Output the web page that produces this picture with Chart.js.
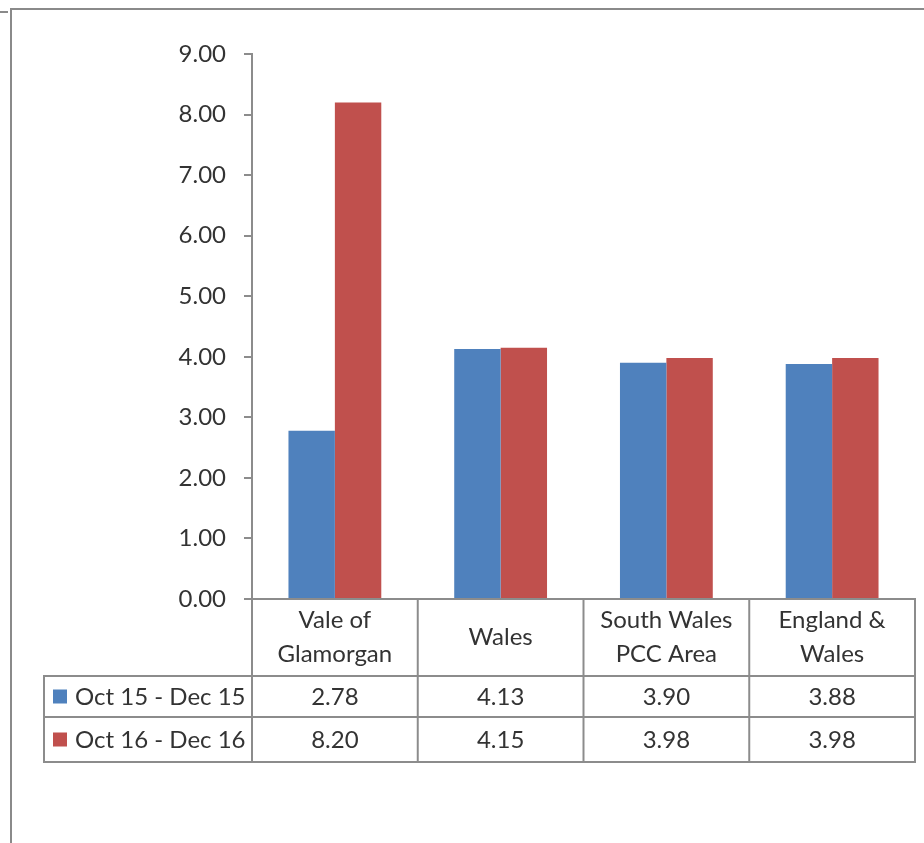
<!DOCTYPE html>
<html>
<head>
<meta charset="utf-8">
<script src="https://cdn.jsdelivr.net/npm/chart.js@4/dist/chart.umd.min.js"></script>
<style>
  html, body { margin: 0; padding: 0; background: #fff; overflow: hidden; }
  #wrap { position: relative; width: 924px; height: 843px; }
</style>
</head>
<body>
<div id="wrap"><canvas id="chart"></canvas></div>
<script>
// --- data ---
const categories = [['Vale of', 'Glamorgan'], ['Wales'], ['South Wales', 'PCC Area'], ['England &', 'Wales']];
const seriesNames = ['Oct 15 - Dec 15', 'Oct 16 - Dec 16'];
const oct15 = [2.78, 4.13, 3.90, 3.88];
const oct16 = [8.20, 4.15, 3.98, 3.98];
const seriesColors = ['#4F81BD', '#C0504D'];

const FONT = 'Lato, "DejaVu Sans", sans-serif';
const TEXT = '#333333';
const LINE = '#8c8c8c';

// outer frame (the sheet border round the chart)
const framePlugin = {
  id: 'frame',
  beforeDraw(chart) {
    const ctx = chart.ctx;
    ctx.save();
    ctx.strokeStyle = '#8a8a8a';
    ctx.lineWidth = 2;
    ctx.beginPath();
    ctx.moveTo(11, 843); ctx.lineTo(11, 9); ctx.lineTo(924, 9);
    ctx.moveTo(0, 12); ctx.lineTo(8, 12);
    ctx.stroke();
    ctx.restore();
  }
};

// data table under the plot, columns follow the x scale
const tablePlugin = {
  id: 'dataTable',
  afterDraw(chart) {
    const ctx = chart.ctx;
    const area = chart.chartArea;
    const xs = chart.scales.x;
    const n = categories.length;
    const colW = (area.right - area.left) / n;
    const top = area.bottom;
    const headBottom = top + 77;
    const rowH = [41, 45];
    const legendLeft = 44;
    const series = [oct15, oct16];

    ctx.save();
    ctx.strokeStyle = LINE;
    ctx.lineWidth = 2;

    // header block
    ctx.strokeRect(area.left, top, area.right - area.left, headBottom - top);
    for (let i = 1; i < n; i++) {
      const x = area.left + colW * i;
      ctx.beginPath(); ctx.moveTo(x, top); ctx.lineTo(x, headBottom); ctx.stroke();
    }

    // data rows
    let y = headBottom;
    const bottom = headBottom + rowH[0] + rowH[1];
    ctx.strokeRect(legendLeft, headBottom, area.right - legendLeft, bottom - headBottom);
    ctx.beginPath(); ctx.moveTo(legendLeft, headBottom + rowH[0]); ctx.lineTo(area.right, headBottom + rowH[0]); ctx.stroke();
    for (let i = 0; i < n; i++) {
      const x = area.left + colW * i;
      ctx.beginPath(); ctx.moveTo(x, headBottom); ctx.lineTo(x, bottom); ctx.stroke();
    }

    ctx.fillStyle = TEXT;
    ctx.font = '24px ' + FONT;
    ctx.textAlign = 'center';
    ctx.textBaseline = 'middle';

    // header labels
    const headMid = (top + headBottom) / 2;
    categories.forEach((lines, i) => {
      const cx = xs.getPixelForValue(i);
      const lh = 34;
      lines.forEach((t, k) => {
        ctx.fillText(t, cx, headMid + (k - (lines.length - 1) / 2) * lh);
      });
    });

    // rows
    series.forEach((vals, r) => {
      const rowTop = y;
      const mid = rowTop + rowH[r] / 2;
      ctx.fillStyle = seriesColors[r];
      ctx.fillRect(53, mid - 7, 14, 14);
      ctx.fillStyle = TEXT;
      ctx.textAlign = 'left';
      ctx.fillText(seriesNames[r], 75, mid + 1);
      ctx.textAlign = 'center';
      vals.forEach((v, i) => {
        ctx.fillText(v.toFixed(2), xs.getPixelForValue(i), mid + 1);
      });
      y += rowH[r];
    });
    ctx.restore();
  }
};

new Chart(document.getElementById('chart'), {
  type: 'bar',
  data: {
    labels: categories,
    datasets: [
      { label: seriesNames[0], data: oct15, backgroundColor: seriesColors[0], borderWidth: 0 },
      { label: seriesNames[1], data: oct16, backgroundColor: seriesColors[1], borderWidth: 0 }
    ]
  },
  options: {
    responsive: true,
    maintainAspectRatio: false,
    animation: false,
    layout: { padding: { left: 0, top: 54, right: 9, bottom: 244 } },
    datasets: { bar: { categoryPercentage: 0.56, barPercentage: 1 } },
    plugins: { legend: { display: false }, tooltip: { enabled: false } },
    scales: {
      x: { display: false },
      y: {
        min: 0,
        max: 9,
        afterFit: s => { s.width = 252; },
        ticks: {
          stepSize: 1,
          padding: 18,
          color: TEXT,
          font: { family: FONT, size: 24 },
          callback: v => v.toFixed(2)
        },
        grid: { drawOnChartArea: false, tickLength: 8, color: LINE, lineWidth: 2 },
        border: { color: LINE, width: 2 }
      }
    }
  },
  plugins: [framePlugin, tablePlugin]
});
</script>
</body>
</html>
